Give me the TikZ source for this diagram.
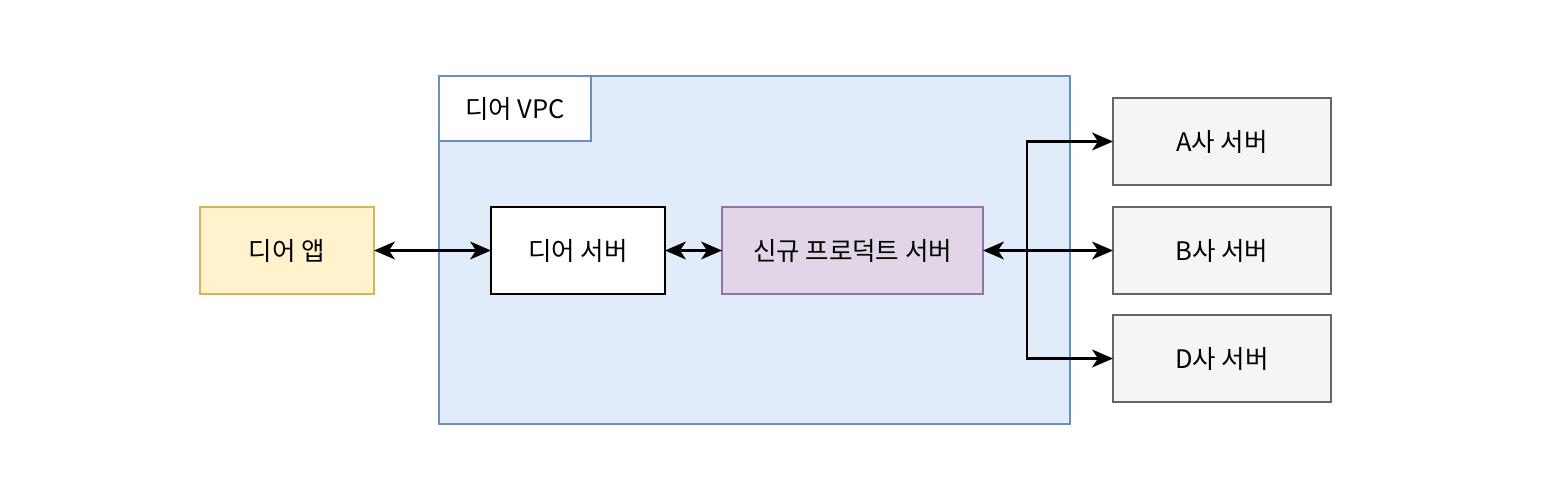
\documentclass[tikz,border=0pt]{standalone}
\usepackage{fontspec}
\setmainfont{Noto Sans CJK KR}
\usepackage{xcolor}
\usetikzlibrary{arrows.meta, positioning}
\definecolor{vpcfill}{HTML}{E1ECFB}
\definecolor{vpcline}{HTML}{6C8EBF}
\definecolor{appfill}{HTML}{FFF2CC}
\definecolor{appline}{HTML}{D6B656}
\definecolor{newfill}{HTML}{E1D5E7}
\definecolor{newline}{HTML}{9673A6}
\definecolor{extfill}{HTML}{F5F5F5}
\definecolor{extline}{HTML}{666666}
\tikzset{
    box/.style={
        rectangle,
        draw=black,
        line width=0.85pt,
        minimum width=3.48cm,
        minimum height=1.74cm,
        fill=white,
        font=\fontsize{14.5}{17}\selectfont,
        inner sep=0pt,
        outer sep=0pt
    },
    appbox/.style={
        box,
        draw=appline,
        fill=appfill
    },
    newbox/.style={
        box,
        draw=newline,
        fill=newfill,
        minimum width=5.22cm
    },
    extbox/.style={
        box,
        draw=extline,
        fill=extfill,
        minimum width=4.36cm
    },
    vpcbox/.style={
        rectangle,
        draw=vpcline,
        line width=0.85pt,
        fill=vpcfill,
        minimum width=12.62cm,
        minimum height=6.96cm,
        outer sep=0pt
    },
    link/.style={
        draw=black,
        line width=1.3pt,
        {Stealth[length=0.42cm,width=0.36cm,inset=0.12cm]}-{Stealth[length=0.42cm,width=0.36cm,inset=0.12cm]}
    },
    onelink/.style={
        draw=black,
        line width=1.3pt,
        -{Stealth[length=0.42cm,width=0.36cm,inset=0.12cm]}
    }
}

\begin{document}
\begin{tikzpicture}
\useasboundingbox (0,0) rectangle (31.2,-9.64);

% VPC area
\node[vpcbox] (vpc) at (15.09,-5.0) {};
\node[box, draw=vpcline, minimum width=3.04cm, minimum height=1.3cm] (vpclabel) at (10.3,-2.17) {디어 VPC};

\node[appbox] (app) at (5.74,-5.01) {디어 앱};
\node[box, right=2.34cm of app] (server) {디어 서버};
\node[newbox, right=1.14cm of server] (newprod) {신규 프로덕트 서버};

% partner servers
\node[extbox, right=2.6cm of newprod] (bsrv) {B사 서버};
\node[extbox, above=0.44cm of bsrv] (asrv) {A사 서버};
\node[extbox, below=0.42cm of bsrv] (dsrv) {D사 서버};

\coordinate (split) at (20.54,-5.01);

\draw[link] (app) -- (server);
\draw[link] (server) -- (newprod);
\draw[link] (newprod) -- (bsrv);
\draw[onelink] (split) |- (asrv.west);
\draw[onelink] (split) |- (dsrv.west);

\end{tikzpicture}
\end{document}
